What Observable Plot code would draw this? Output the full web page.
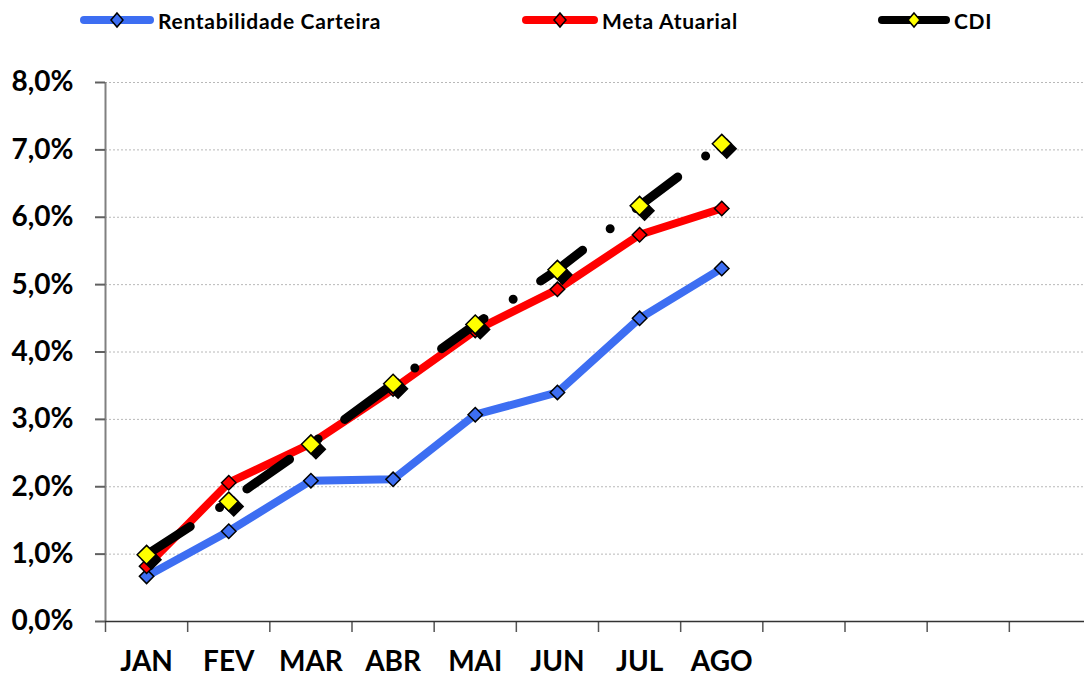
<!DOCTYPE html>
<html>
<head>
<meta charset="utf-8">
<script src="https://cdn.jsdelivr.net/npm/d3@7"></script>
<script src="https://cdn.jsdelivr.net/npm/@observablehq/plot@0.6"></script>
<style>
  body { margin: 0; background: #fff; font-family: Lato, "Open Sans", sans-serif; }
  #legend { position: relative; height: 40px; width: 1084px; font-weight: bold; font-size: 21px; letter-spacing: 0.7px; color: #000; }
  .item { position: absolute; top: 9px; display: flex; align-items: center; height: 22px; }
  .item svg { display: block; margin-right: 4px; }
</style>
</head>
<body>
<div id="legend"></div>
<div id="chart"></div>
<script>
const months = ["JAN", "FEV", "MAR", "ABR", "MAI", "JUN", "JUL", "AGO"];
const slotCount = 12;
const rentabilidade = [0.67, 1.34, 2.09, 2.11, 3.07, 3.40, 4.50, 5.24];
const meta = [0.82, 2.06, 2.64, 3.45, 4.32, 4.93, 5.74, 6.13];
const cdi = [0.99, 1.78, 2.63, 3.53, 4.41, 5.22, 6.17, 7.09];
const yTicks = [0, 1, 2, 3, 4, 5, 6, 7, 8];
const seriesNames = ["Rentabilidade Carteira", "Meta Atuarial", "CDI"];

const blue = "#3d6ef2", red = "#ff0000", black = "#000000", yellow = "#ffff00";

// Legend (HTML)
const legendSpecs = [
  {name: seriesNames[0], left: 80, w: 74, line: blue, fill: blue},
  {name: seriesNames[1], left: 522, w: 76, line: red, fill: red},
  {name: seriesNames[2], left: 878, w: 72, line: black, fill: yellow}
];
const legend = document.getElementById("legend");
for (const s of legendSpecs) {
  const div = document.createElement("div");
  div.className = "item";
  div.style.left = s.left + "px";
  const c = s.w / 2;
  div.innerHTML = `<svg width="${s.w}" height="22"><line x1="4" x2="${s.w - 4}" y1="11" y2="11" stroke="${s.line}" stroke-width="8" stroke-linecap="round"/><path d="M${c},4L${c + 6},11L${c},18L${c - 6},11Z" fill="${s.fill}" stroke="#000" stroke-width="1.5"/></svg><span>${s.name}</span>`;
  legend.appendChild(div);
}

const data = months.map((m, i) => ({
  month: m, pos: i + 0.5,
  rent: rentabilidade[i], meta: meta[i], cdi: cdi[i]
}));
const boundaries = d3.range(0, slotCount + 1);
const fmt = d => d.toFixed(1).replace(".", ",") + "%";

const chart = Plot.plot({
  width: 1084,
  height: 638,
  marginTop: 42,
  marginBottom: 57,
  marginLeft: 105,
  marginRight: 0,
  style: {fontFamily: "Lato, 'Open Sans', sans-serif", background: "#fff", overflow: "visible"},
  x: {type: "linear", domain: [0, slotCount], range: [105, 1091], label: null},
  y: {domain: [0, 8], label: null},
  marks: [
    Plot.ruleY(yTicks.filter(d => d > 0), {stroke: "#b8b8b8", strokeWidth: 1, strokeDasharray: "2 2"}),
    Plot.ruleX([0], {y1: 0, y2: 8, stroke: "#808080", strokeWidth: 2}),
    Plot.axisY({ticks: yTicks, tickFormat: fmt, tickSize: 10, tickPadding: 22, stroke: "#606060", strokeWidth: 2,
      fontSize: 28, fontWeight: "bold", fill: "#000", label: null}),
    Plot.axisX({ticks: boundaries, tickFormat: () => "", tickSize: 11, stroke: "#555", strokeWidth: 1.5, label: null}),
    Plot.axisX(data.map(d => d.pos), {tickFormat: (d, i) => months[i], tickSize: 0, tickPadding: 30,
      fontSize: 28, fontWeight: "bold", fill: "#000", label: null}),
    Plot.ruleY([0], {stroke: "#333", strokeWidth: 1.5}),
    // Rentabilidade Carteira
    Plot.line(data, {x: "pos", y: "rent", stroke: blue, strokeWidth: 8, strokeLinejoin: "round"}),
    Plot.dot(data, {x: "pos", y: "rent", symbol: "diamond2", r: 6.5, fill: blue, stroke: black, strokeWidth: 1.5}),
    // Meta Atuarial
    Plot.line(data, {x: "pos", y: "meta", stroke: red, strokeWidth: 8, strokeLinejoin: "round"}),
    Plot.dot(data, {x: "pos", y: "meta", symbol: "diamond2", r: 6.5, fill: red, stroke: black, strokeWidth: 1.5}),
    // CDI
    Plot.line(data, {x: "pos", y: "cdi", stroke: black, strokeWidth: 9, strokeLinecap: "round",
      strokeLinejoin: "round", strokeDasharray: "52 35 0 33"}),
    Plot.dot(data, {x: "pos", y: "cdi", symbol: "diamond2", r: 8.5, fill: black, stroke: black, strokeWidth: 1.5, dx: 5, dy: 5}),
    Plot.dot(data, {x: "pos", y: "cdi", symbol: "diamond2", r: 8.5, fill: yellow, stroke: black, strokeWidth: 1.5})
  ]
});
document.getElementById("chart").appendChild(chart);
</script>
</body>
</html>
